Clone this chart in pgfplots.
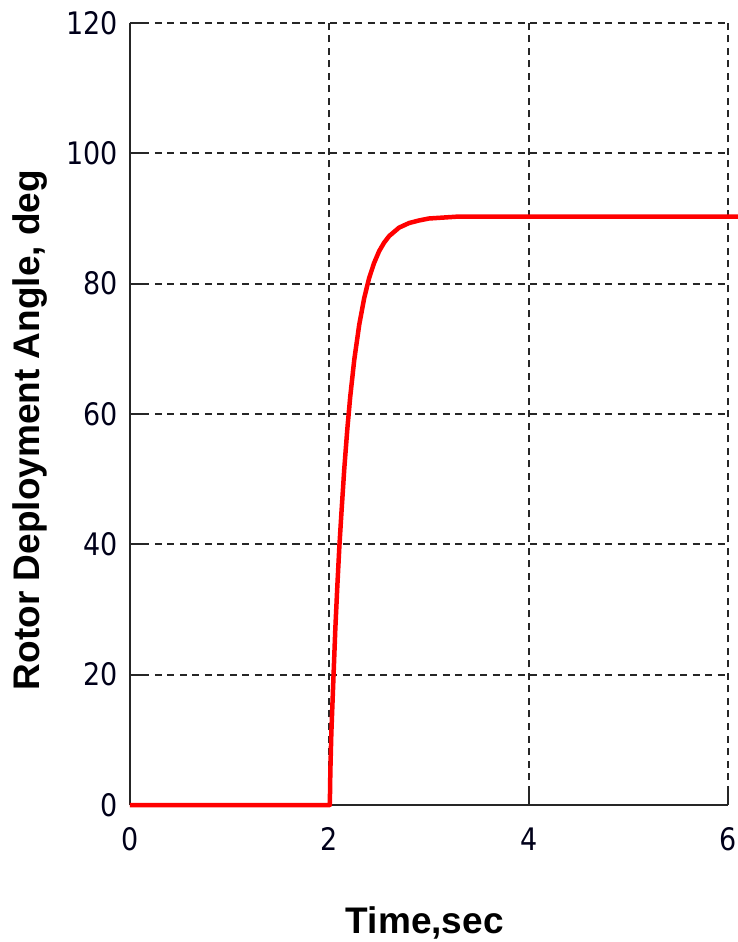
\documentclass[border=0pt]{standalone}
\usepackage{fontspec}
\setmainfont{Liberation Sans}
\newfontfamily\tickfont[FakeStretch=0.87]{DejaVu Sans}
\usepackage{pgfplots}
\pgfplotsset{compat=1.18}
\begin{document}
\begin{tikzpicture}
\useasboundingbox (-130pt,-137pt) rectangle (608pt,805pt);
\begin{axis}[
  scale only axis,
  width=598pt, height=782pt,
  xmin=0, xmax=6, ymin=0, ymax=120,
  xtick={0,2,4,6}, ytick={0,20,40,60,80,100,120},
  axis x line=bottom, axis y line=left,
  axis line style={-, line width=2pt, black!85},
  tick style={line width=2pt, black!85},
  tick align=inside,
  major tick length=14pt,
  grid=major,
  major grid style={line width=2.2pt, black!85, dash pattern=on 7pt off 5.5pt},
  /pgf/number format/assume math mode=true,
  tick label style={font=\tickfont\fontsize{31}{31}\selectfont, text=black!90!blue},
  xticklabel style={anchor=base, inner sep=0pt, yshift=-45pt},
  yticklabel style={anchor=east, inner sep=0pt, xshift=-12pt},
  xlabel={Time,sec},
  ylabel={Rotor Deployment Angle, deg},
  label style={font=\bfseries\fontsize{37}{37}\selectfont},
  xlabel style={at={(axis description cs:0.493,-0.1637)}, anchor=base},
  ylabel style={at={(axis description cs:-0.1672,0.4795)}, anchor=center},
  clip=false,
]
\addplot[red, line width=4.5pt, line join=round] coordinates {
(0,0) (2.00,0) (2.005,0) (2.01,5) (2.02,11) (2.04,19) (2.06,27) (2.08,33.5) (2.10,39.5)
(2.12,44.5) (2.15,51.6) (2.18,57.6) (2.21,62.7) (2.25,68.3) (2.30,73.7)
(2.35,77.8) (2.40,80.9) (2.45,83.2) (2.50,85.0) (2.55,86.3) (2.60,87.3)
(2.70,88.6) (2.80,89.3) (2.90,89.7) (3.00,90.0) (3.20,90.2) (3.30,90.3) (6.10,90.3)
};
\end{axis}
\end{tikzpicture}
\end{document}
